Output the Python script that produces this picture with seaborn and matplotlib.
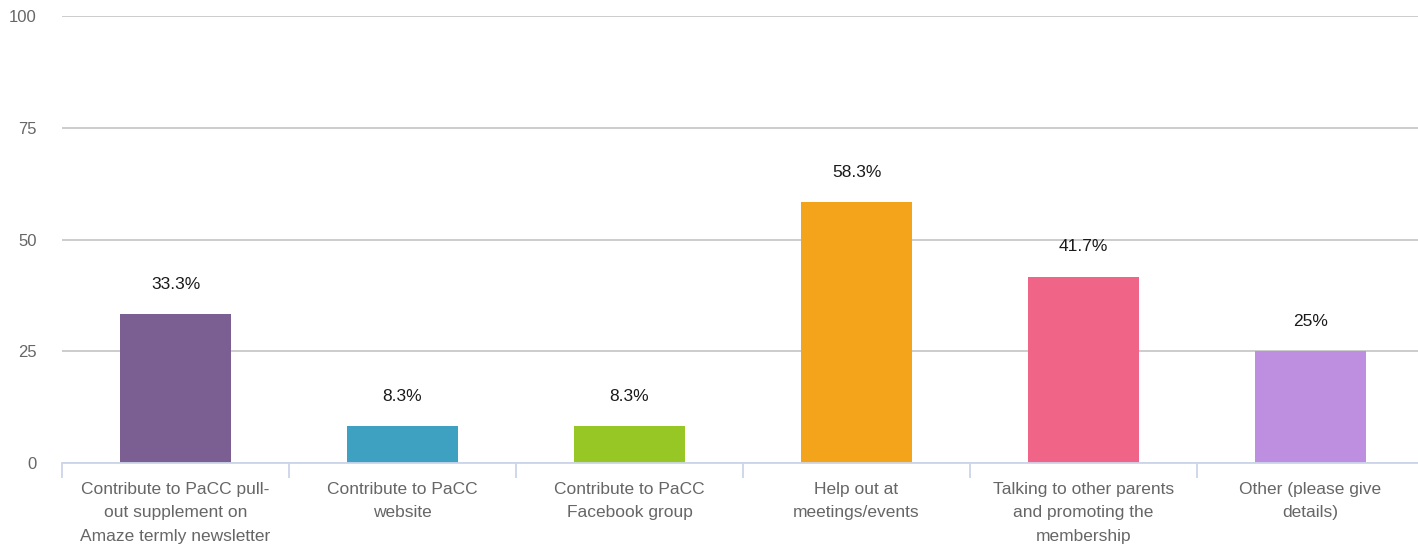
import matplotlib
matplotlib.use("Agg")
import matplotlib.pyplot as plt
import seaborn as sns
import pandas as pd
import numpy as np

categories = [
    "Contribute to PaCC pull-out supplement on Amaze termly newsletter",
    "Contribute to PaCC website",
    "Contribute to PaCC Facebook group",
    "Help out at meetings/events",
    "Talking to other parents and promoting the membership",
    "Other (please give details)",
]
tick_labels = [
    "Contribute to PaCC pull-\nout supplement on\nAmaze termly newsletter",
    "Contribute to PaCC\nwebsite",
    "Contribute to PaCC\nFacebook group",
    "Help out at\nmeetings/events",
    "Talking to other parents\nand promoting the\nmembership",
    "Other (please give\ndetails)",
]
values = [33.3, 8.3, 8.3, 58.3, 41.7, 25]
colors = ["#7c5f92", "#3fa1c2", "#96c725", "#f4a41a", "#f06488", "#be8fe0"]
y_ticks = [0, 25, 50, 75, 100]

sns.set_theme(style="white")
plt.rcParams["font.family"] = ["Liberation Sans", "DejaVu Sans"]

df = pd.DataFrame({"category": categories, "value": values})

fig = plt.figure(figsize=(14.18, 5.44), dpi=100)
ax = fig.add_axes([62 / 1418, 81 / 544, 1362 / 1418, 447 / 544])

sns.barplot(data=df, x="category", y="value", hue="category",
            palette=colors, order=categories, hue_order=categories,
            width=0.485, dodge=False, legend=False, ax=ax, saturation=1,
            linewidth=0)

ax.set_ylim(0, 100)
ax.set_xlim(-0.5, len(categories) - 0.5)
ax.set_yticks(y_ticks)
ax.set_yticklabels([str(t) for t in y_ticks])
ax.yaxis.grid(True, color="#c4c4c4", linewidth=1.2)
ax.set_axisbelow(True)
ax.tick_params(axis="y", length=0, pad=18, labelsize=12, labelcolor="#666666")

ax.set_xticks(range(len(categories)))
ax.set_xticklabels(tick_labels, fontsize=12.5, color="#666666", linespacing=1.7)
ax.tick_params(axis="x", which="major", length=0, pad=13.5)
ax.set_xticks(np.arange(-0.5, len(categories), 1.0), minor=True)
ax.tick_params(axis="x", which="minor", length=11, width=1.3, color="#ccd6eb", bottom=True)

for s in ["top", "right", "left"]:
    ax.spines[s].set_visible(False)
ax.spines["bottom"].set_color("#ccd6eb")
ax.spines["bottom"].set_linewidth(1.3)
ax.set_xlabel("")
ax.set_ylabel("")

for container in ax.containers:
    ax.bar_label(container, labels=[f"{v:g}%" for v in container.datavalues],
                 padding=16, fontsize=12.5, color="#1a1a1a")

fig.savefig("out.png", dpi=100)
